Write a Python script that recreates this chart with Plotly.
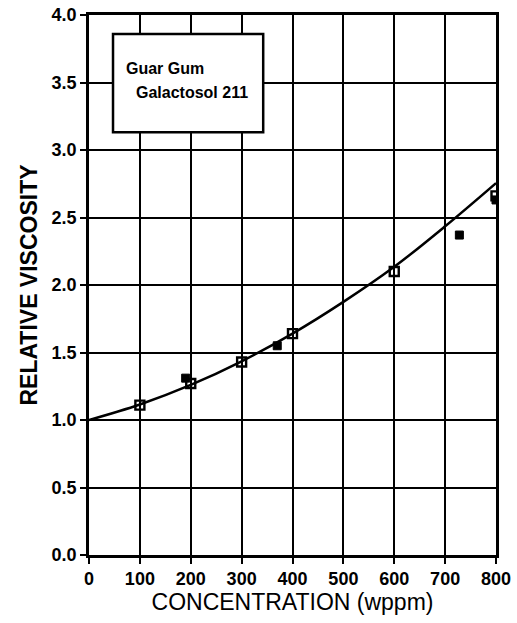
import plotly.graph_objects as go

# Guar gum (Galactosol 211) relative viscosity vs. concentration
conc_open = [100, 200, 300, 400, 600, 800]
visc_open = [1.11, 1.27, 1.43, 1.64, 2.10, 2.66]

conc_filled = [190, 370, 728, 800]
visc_filled = [1.31, 1.55, 2.37, 2.63]

# smooth correlation curve
conc_fit = [0, 100, 200, 300, 400, 500, 600, 700, 800]
visc_fit = [1.00, 1.115, 1.26, 1.435, 1.64, 1.875, 2.135, 2.435, 2.755]

x_ticks = [0, 100, 200, 300, 400, 500, 600, 700, 800]
y_ticks = [0.0, 0.5, 1.0, 1.5, 2.0, 2.5, 3.0, 3.5, 4.0]

label_lines = ["Guar Gum", "Galactosol 211"]

FONT = "Liberation Sans, Arial, sans-serif"

fig = go.Figure()

fig.add_trace(go.Scatter(
    x=conc_fit, y=visc_fit, mode="lines", line_shape="spline",
    line=dict(color="black", width=2.5), hoverinfo="skip",
))
fig.add_trace(go.Scatter(
    x=conc_filled, y=visc_filled, mode="markers",
    marker=dict(symbol="square", size=8, color="black",
                line=dict(color="black", width=1)),
))
fig.add_trace(go.Scatter(
    x=conc_open, y=visc_open, mode="markers",
    marker=dict(symbol="square-open", size=9, color="black",
                line=dict(color="black", width=2.4)),
))

# label box in the upper-left corner of the grid
fig.add_shape(type="rect", xref="x domain", yref="y domain",
              x0=0.059, x1=0.428, y0=0.783, y1=0.965,
              line=dict(color="black", width=2.5), fillcolor="white", layer="above")
for txt, x0, y0 in zip(label_lines, [0.086, 0.111], [0.900, 0.857]):
    fig.add_annotation(
        x=x0, y=y0, xref="x domain", yref="y domain",
        xanchor="left", yanchor="middle", showarrow=False, text=txt,
        font=dict(family=FONT, size=16, color="black", weight="bold"),
    )

axis_common = dict(
    showgrid=True, gridcolor="black", gridwidth=2,
    showline=True, linecolor="black", linewidth=2.5, mirror=True,
    ticks="outside", ticklen=6, tickwidth=2, tickcolor="black",
    zeroline=False, automargin=False,
    tickfont=dict(family=FONT, size=18, color="black", weight="bold"),
)

fig.update_xaxes(
    range=[0, 800], tickvals=x_ticks, ticktext=[str(v) for v in x_ticks],
    title=dict(text="CONCENTRATION (wppm)", standoff=4,
               font=dict(family=FONT, size=23, color="black")),
    **axis_common,
)
fig.update_yaxes(
    range=[0, 4.0], tickvals=y_ticks, ticktext=[f"{v:.1f}" for v in y_ticks],
    title=dict(text="RELATIVE VISCOSITY", standoff=8,
               font=dict(family=FONT, size=23, color="black", weight="bold")),
    **axis_common,
)

fig.update_layout(
    width=517, height=623,
    margin=dict(l=89, r=21, t=15, b=68),
    paper_bgcolor="white", plot_bgcolor="white",
    showlegend=False,
)

fig.write_html("out.html")
